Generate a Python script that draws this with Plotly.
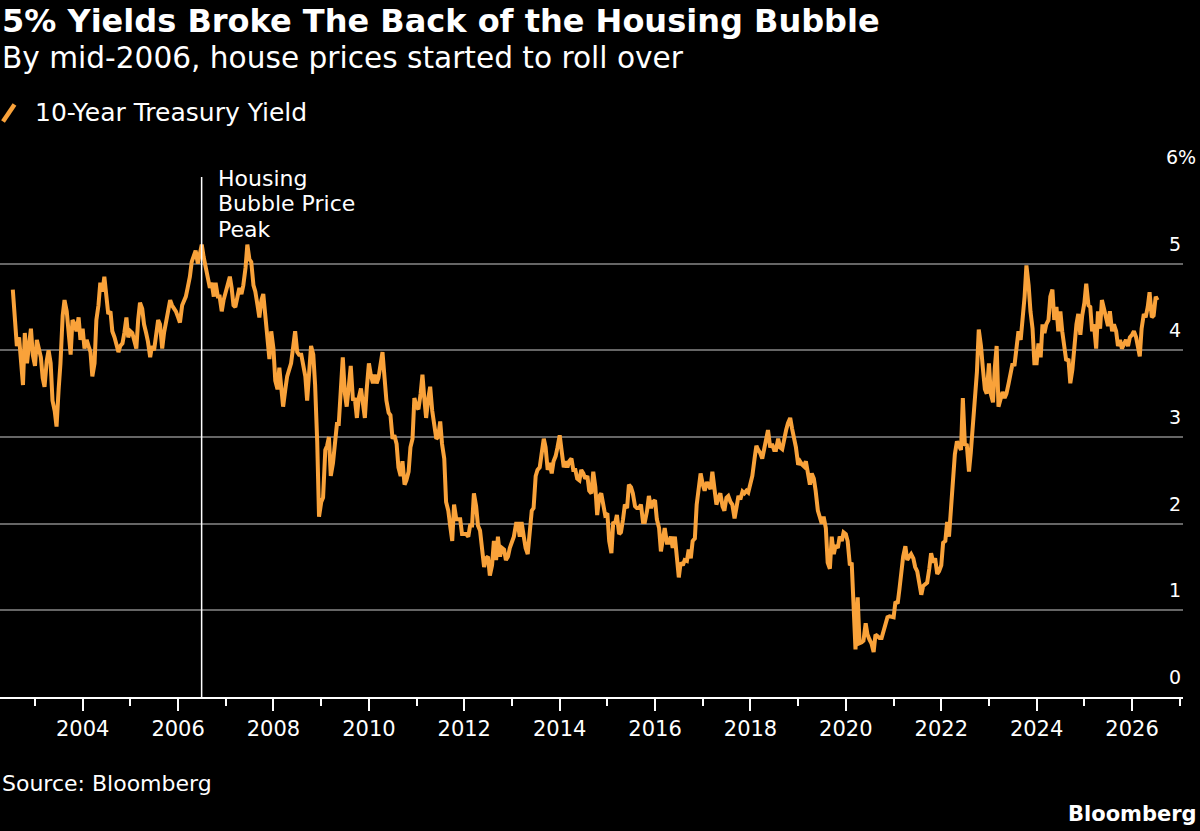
import pandas as pd
import plotly.graph_objects as go

# 10-Year Treasury yield, semi-monthly readings (1st and 15th), Jul 2002 - Jul 2026
y2002 = [4.70, 4.35, 4.05, 4.15, 3.85, 3.60, 4.20, 3.85, 4.05, 4.25, 3.95]
y2003 = [3.82, 4.12, 3.98, 3.92, 3.68, 3.58, 3.88, 4.00, 3.85, 3.42, 3.30, 3.12,
         3.55, 3.85, 4.40, 4.58, 4.45, 4.18, 3.95, 4.35, 4.30, 4.22, 4.38, 4.12]
y2004 = [4.25, 4.02, 4.12, 4.05, 3.98, 3.70, 3.85, 4.35, 4.52, 4.78, 4.68, 4.85,
         4.58, 4.42, 4.45, 4.22, 4.15, 4.05, 3.98, 4.05, 4.08, 4.20, 4.38, 4.15]
y2005 = [4.22, 4.20, 4.12, 4.02, 4.35, 4.55, 4.48, 4.30, 4.20, 4.10, 3.92, 4.05,
         4.00, 4.18, 4.35, 4.30, 4.02, 4.20, 4.35, 4.48, 4.58, 4.52, 4.48, 4.45]
y2006 = [4.38, 4.32, 4.52, 4.58, 4.62, 4.72, 4.85, 5.02, 5.08, 5.15, 5.00, 5.10,
         5.22, 5.08, 4.95, 4.85, 4.72, 4.78, 4.62, 4.78, 4.62, 4.62, 4.45, 4.58]
y2007 = [4.68, 4.78, 4.85, 4.72, 4.52, 4.50, 4.62, 4.72, 4.65, 4.75, 4.95, 5.22,
         5.05, 5.02, 4.75, 4.68, 4.52, 4.38, 4.58, 4.65, 4.38, 4.12, 3.90, 4.22]
y2008 = [4.02, 3.65, 3.55, 3.80, 3.55, 3.35, 3.55, 3.70, 3.78, 3.85, 4.05, 4.22,
         3.98, 3.95, 3.95, 3.82, 3.70, 3.42, 3.78, 4.05, 3.95, 3.60, 2.95, 2.08]
y2009 = [2.25, 2.30, 2.85, 2.90, 3.00, 2.55, 2.70, 2.90, 3.15, 3.15, 3.60, 3.92,
         3.50, 3.35, 3.60, 3.82, 3.42, 3.45, 3.22, 3.45, 3.56, 3.35, 3.22, 3.55]
y2010 = [3.85, 3.72, 3.62, 3.72, 3.62, 3.68, 3.88, 3.98, 3.68, 3.42, 3.28, 3.25,
         2.98, 3.02, 2.92, 2.65, 2.55, 2.72, 2.45, 2.50, 2.60, 2.88, 2.98, 3.45]
y2011 = [3.35, 3.32, 3.50, 3.72, 3.45, 3.22, 3.45, 3.58, 3.30, 3.15, 2.98, 3.00,
         3.18, 2.92, 2.75, 2.25, 2.15, 1.98, 1.80, 2.22, 2.05, 2.05, 2.05, 1.88]
y2012 = [1.88, 1.88, 1.85, 1.98, 1.98, 2.35, 2.20, 1.98, 1.92, 1.75, 1.50, 1.60,
         1.62, 1.40, 1.52, 1.80, 1.58, 1.85, 1.62, 1.72, 1.70, 1.58, 1.62, 1.72]
y2013 = [1.78, 1.85, 2.00, 2.00, 1.85, 2.02, 1.85, 1.72, 1.65, 1.90, 2.15, 2.18,
         2.55, 2.62, 2.65, 2.80, 2.98, 2.88, 2.62, 2.70, 2.58, 2.72, 2.78, 2.88]
y2014 = [3.02, 2.85, 2.65, 2.72, 2.65, 2.72, 2.75, 2.62, 2.62, 2.52, 2.50, 2.62,
         2.58, 2.52, 2.55, 2.38, 2.35, 2.60, 2.42, 2.10, 2.32, 2.35, 2.22, 2.10]
y2015 = [2.12, 1.80, 1.66, 2.02, 2.00, 2.10, 1.88, 1.90, 2.05, 2.22, 2.18, 2.45,
         2.42, 2.35, 2.20, 2.18, 2.18, 2.22, 2.02, 2.02, 2.15, 2.32, 2.18, 2.25]
y2016 = [2.27, 2.05, 1.95, 1.68, 1.82, 1.95, 1.78, 1.78, 1.85, 1.72, 1.85, 1.60,
         1.38, 1.55, 1.52, 1.58, 1.57, 1.70, 1.60, 1.80, 1.83, 2.22, 2.42, 2.58]
y2017 = [2.45, 2.38, 2.48, 2.45, 2.40, 2.60, 2.40, 2.22, 2.30, 2.35, 2.20, 2.15,
         2.30, 2.32, 2.25, 2.22, 2.06, 2.18, 2.32, 2.28, 2.37, 2.35, 2.38, 2.36]
y2018 = [2.45, 2.55, 2.75, 2.90, 2.85, 2.82, 2.75, 2.85, 2.97, 3.08, 2.88, 2.92,
         2.85, 2.85, 2.98, 2.88, 2.86, 2.99, 3.08, 3.16, 3.22, 3.10, 3.00, 2.88]
y2019 = [2.68, 2.72, 2.68, 2.66, 2.72, 2.60, 2.45, 2.58, 2.52, 2.38, 2.15, 2.08,
         2.00, 2.08, 1.95, 1.55, 1.48, 1.85, 1.65, 1.75, 1.72, 1.85, 1.80, 1.90]
y2020 = [1.88, 1.80, 1.52, 1.55, 1.10, 0.55, 1.15, 0.62, 0.63, 0.65, 0.85, 0.72,
         0.66, 0.62, 0.52, 0.72, 0.70, 0.68, 0.68, 0.75, 0.86, 0.92, 0.93, 0.92]
y2021 = [0.92, 1.10, 1.08, 1.25, 1.45, 1.62, 1.74, 1.58, 1.62, 1.65, 1.60, 1.50,
         1.45, 1.30, 1.18, 1.28, 1.30, 1.32, 1.48, 1.66, 1.55, 1.60, 1.42, 1.45]
y2022 = [1.52, 1.78, 1.80, 2.02, 1.85, 2.15, 2.40, 2.80, 2.95, 2.90, 2.85, 3.45,
         2.90, 2.92, 2.60, 2.82, 3.20, 3.45, 3.75, 4.24, 4.05, 3.80, 3.55, 3.50]
y2023 = [3.85, 3.50, 3.40, 3.80, 4.05, 3.35, 3.45, 3.52, 3.45, 3.50, 3.62, 3.75,
         3.85, 3.82, 4.05, 4.22, 4.12, 4.32, 4.62, 4.98, 4.75, 4.45, 4.25, 3.85]
y2024 = [3.85, 4.08, 3.92, 4.30, 4.20, 4.30, 4.35, 4.62, 4.70, 4.35, 4.50, 4.22,
         4.45, 4.22, 3.98, 3.88, 3.90, 3.62, 3.78, 4.05, 4.30, 4.42, 4.18, 4.40]
y2025 = [4.55, 4.77, 4.52, 4.50, 4.22, 4.30, 4.02, 4.45, 4.25, 4.58, 4.45, 4.40,
         4.28, 4.45, 4.22, 4.30, 4.22, 4.05, 4.12, 4.02, 4.08, 4.12, 4.05, 4.15]
y2026 = [4.18, 4.22, 4.15, 4.05, 3.93, 4.25, 4.42, 4.38, 4.50, 4.67, 4.38, 4.40,
         4.62, 4.58]

yields = (y2002 + y2003 + y2004 + y2005 + y2006 + y2007 + y2008 + y2009 + y2010
          + y2011 + y2012 + y2013 + y2014 + y2015 + y2016 + y2017 + y2018 + y2019
          + y2020 + y2021 + y2022 + y2023 + y2024 + y2025 + y2026)
dates = pd.date_range("2002-07-15", "2026-07-15", freq="SMS")
n = min(len(dates), len(yields))
dates, yields = dates[:n], yields[:n]

y_tickvals = [0, 1, 2, 3, 4, 5, 6]
y_ticktext = ["0", "1", "2", "3", "4", "5", "6%"]
peak_date = "2006-06-30"
peak_lines = ["Housing", "Bubble Price", "Peak"]

ORANGE = "#F9A23A"
FONT = "DejaVu Sans"
W, H = 1200, 831
ML, MR, MT, MB = 0, 17, 177, 134
PW, PH = W - ML - MR, H - MT - MB


def px(x):
    return (x - ML) / PW


def py(y):
    return (H - MB - y) / PH


fig = go.Figure()
fig.add_trace(go.Scatter(x=dates, y=yields, mode="lines",
                         line=dict(color=ORANGE, width=4),
                         name="10-Year Treasury Yield", showlegend=False))

fig.update_layout(
    width=W, height=H, autosize=False,
    margin=dict(l=ML, r=MR, t=MT, b=MB),
    paper_bgcolor="black", plot_bgcolor="black",
    font=dict(family=FONT, color="white"),
    showlegend=False,
    xaxis=dict(
        type="date", range=["2002-04-08", "2027-01-26"],
        tick0="2004-01-01", dtick="M24", tickformat="%Y",
        ticks="outside", ticklen=12, tickwidth=2, tickcolor="white",
        showgrid=False, zeroline=False,
        showline=True, linecolor="white", linewidth=2,
        tickfont=dict(family=FONT, size=21, color="white"),
        minor=dict(dtick="M12", ticks="outside", ticklen=7, tickwidth=2,
                   tickcolor="white", showgrid=False),
        automargin=False, fixedrange=True,
    ),
    yaxis=dict(
        range=[0, 6], side="right",
        tickvals=y_tickvals, showticklabels=False, ticks="",
        showgrid=True, gridcolor="#666666", gridwidth=1.5,
        zeroline=False, showline=False,
        automargin=False, fixedrange=True,
    ),
)

# y tick labels sit above their gridlines; digits flush with the gridline end,
# a "%" suffix hangs past it
for v, t in zip(y_tickvals, y_ticktext):
    right = 1198 if t.endswith("%") else 1183
    fig.add_annotation(text=t, xref="paper", yref="y", x=px(right), y=v,
                       xanchor="right", yanchor="middle", yshift=20,
                       showarrow=False,
                       font=dict(family=FONT, size=19, color="white"))

fig.add_shape(type="line", xref="x", yref="paper", x0=peak_date, x1=peak_date,
              y0=0, y1=1, line=dict(color="white", width=1.5), layer="above")

fig.add_shape(type="line", xref="paper", yref="paper",
              x0=px(3), y0=py(121.5), x1=px(14.5), y1=py(104.5),
              line=dict(color=ORANGE, width=4.5))

annotations = [
    dict(text="<b>5% Yields Broke The Back of the Housing Bubble</b>",
         x=px(0), y=py(21), size=32),
    dict(text="By mid-2006, house prices started to roll over",
         x=px(0), y=py(58), size=29.6),
    dict(text="10-Year Treasury Yield", x=px(33), y=py(112), size=25),
    dict(text="Source: Bloomberg", x=px(0), y=py(783), size=22),
]
for a in annotations:
    fig.add_annotation(text=a["text"], xref="paper", yref="paper",
                       x=a["x"], y=a["y"], xanchor="left", yanchor="middle",
                       showarrow=False,
                       font=dict(family=FONT, size=a["size"], color="white"))

fig.add_annotation(text="<b>Bloomberg</b>", xref="paper", yref="paper",
                   x=px(1199), y=py(814), xanchor="right", yanchor="middle",
                   showarrow=False, font=dict(family=FONT, size=21, color="white"))

for i, line in enumerate(peak_lines):
    fig.add_annotation(text=line, xref="x", yref="paper",
                       x=peak_date, xshift=14, y=py(178.5 + 25.3 * i),
                       xanchor="left", yanchor="middle", align="left",
                       showarrow=False,
                       font=dict(family=FONT, size=22, color="white"))

fig.write_html("out.html")
